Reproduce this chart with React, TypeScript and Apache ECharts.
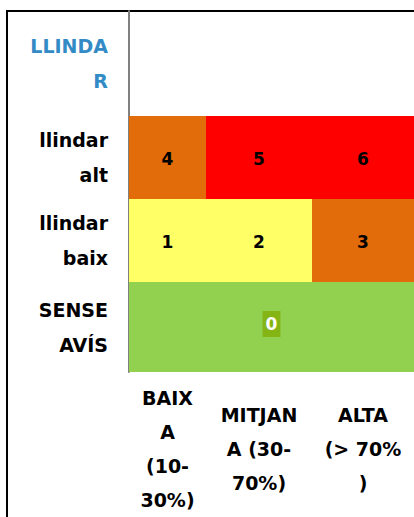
import React, { useEffect, useRef } from "react";
import * as echarts from "echarts";

// ---- data ----
const columnLabels = ["BAIX\nA\n(10-\n30%)", "MITJAN\nA (30-\n70%)", "ALTA\n(> 70%\n)"];
const rowLabels = ["LLINDA\nR", "llindar\nalt", "llindar\nbaix", "SENSE\nAVÍS"];
const altLevels = [4, 5, 6]; // row "llindar alt", one per column
const baixLevels = [1, 2, 3]; // row "llindar baix", one per column
const senseLevel = 0; // row "SENSE AVÍS", merged over all columns

// ---- layout (axis units) ----
const colEdges = [0, 77, 183, 285];
const rowEdges = [0, 105, 188, 271, 361];
const colCenters = colEdges.slice(0, -1).map((e, i) => (e + colEdges[i + 1]) / 2);
const rowCenters = rowEdges.slice(0, -1).map((e, i) => (e + rowEdges[i + 1]) / 2);

const levelColor = (v: number) =>
  v === 0 ? "#92D050" : v <= 2 ? "#FFFF66" : v <= 4 ? "#E26B0A" : "#FF0000";

const FONT = "'DejaVu Sans', Verdana, sans-serif";

export default function App() {
  const ref = useRef<HTMLDivElement>(null);
  useEffect(() => {
    if (!ref.current) return;
    const chart = echarts.init(ref.current, null, { renderer: "svg" });
    const cells: number[][] = [];
    altLevels.forEach((v, i) => cells.push([i, i + 1, 1, v]));
    baixLevels.forEach((v, i) => cells.push([i, i + 1, 2, v]));
    cells.push([0, 3, 3, senseLevel]);

    chart.setOption({
      animation: false,
      grid: { left: 129, right: 0, top: 11, bottom: 145, containLabel: false },
      xAxis: {
        type: "value",
        min: 0,
        max: 285,
        axisLine: { show: false },
        axisTick: { show: false },
        splitLine: { show: false },
        axisLabel: {
          customValues: colCenters,
          formatter: (v: number) => {
            const i = colCenters.findIndex((c) => Math.abs(c - v) < 0.01);
            return i >= 0 ? columnLabels[i] : "";
          },
          margin: 77,
          verticalAlign: "middle",
          align: "center",
          color: "#000",
          fontFamily: FONT,
          fontWeight: "bold",
          fontSize: 19,
          lineHeight: 34,
        },
      },
      yAxis: {
        type: "value",
        inverse: true,
        min: 0,
        max: 361,
        offset: 1,
        axisLine: { show: true, lineStyle: { color: "#808080", width: 2 } },
        axisTick: { show: false },
        splitLine: { show: false },
        axisLabel: {
          customValues: rowCenters,
          formatter: (v: number) => {
            const i = rowCenters.findIndex((c) => Math.abs(c - v) < 0.01);
            return i >= 0 ? rowLabels[i] : "";
          },
          color: (v: number) => (Math.abs(v - rowCenters[0]) < 0.01 ? "#338BC6" : "#000"),
          margin: 20,
          align: "right",
          verticalAlign: "middle",
          fontFamily: FONT,
          fontWeight: "bold",
          fontSize: 19,
          lineHeight: 35,
        },
      },
      graphic: [
        {
          type: "rect",
          shape: { x: 7, y: 11, width: 600, height: 700 },
          style: { fill: "none", stroke: "#000", lineWidth: 2 },
          silent: true,
        },
      ],
      series: [
        {
          type: "custom",
          data: cells,
          renderItem: (params: any, api: any) => {
            const c0 = api.value(0);
            const c1 = api.value(1);
            const r = api.value(2);
            const lvl = api.value(3);
            const p0 = api.coord([colEdges[c0], rowEdges[r]]);
            const p1 = api.coord([colEdges[c1], rowEdges[r + 1]]);
            const x = Math.min(p0[0], p1[0]);
            const y = Math.min(p0[1], p1[1]);
            const w = Math.abs(p1[0] - p0[0]);
            const h = Math.abs(p1[1] - p0[1]);
            const isZero = lvl === 0;
            return {
              type: "group",
              children: [
                {
                  type: "rect",
                  shape: { x, y, width: w, height: h },
                  style: { fill: levelColor(lvl), stroke: null },
                },
                {
                  type: "text",
                  x: x + w / 2,
                  y: y + h / 2 + (isZero ? -3 : 1),
                  style: {
                    text: String(lvl),
                    align: "center",
                    verticalAlign: "middle",
                    fontFamily: FONT,
                    fontWeight: "bold",
                    fontSize: 17,
                    fill: isZero ? "#FFFFFF" : "#000000",
                    backgroundColor: isZero ? "#84B514" : undefined,
                    padding: isZero ? [5, 3, 4, 3] : 0,
                  },
                },
              ],
            };
          },
        },
      ],
    });
    return () => chart.dispose();
  }, []);
  return (
    <div
      ref={ref}
      style={{ position: "absolute", left: 0, top: 0, width: 414, height: 517, background: "#fff" }}
    />
  );
}
